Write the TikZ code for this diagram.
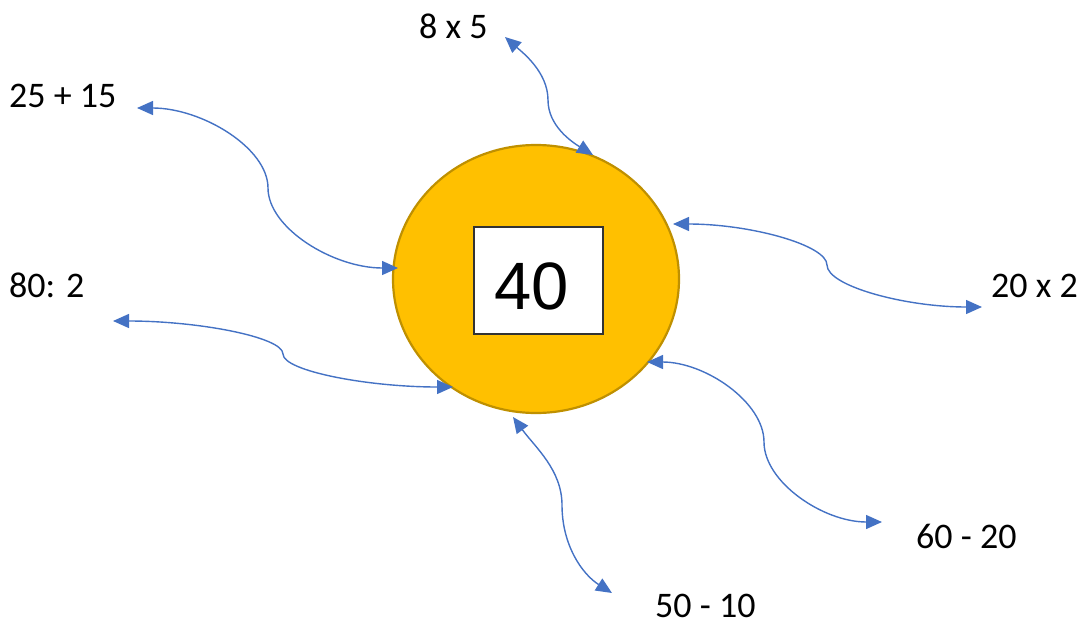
\documentclass[tikz,border=0pt]{standalone}
\usepackage{fontspec}
\setmainfont{Carlito}
\newfontfamily\numfont{Liberation Sans}
\usetikzlibrary{arrows.meta,shapes.geometric}
\definecolor{sunfill}{HTML}{FFC000}
\definecolor{sunedge}{HTML}{BF9000}
\definecolor{conblue}{HTML}{4472C4}
\tikzset{
  lbl/.style={anchor=base west,inner sep=0pt,font=\fontsize{36}{40}\selectfont},
  conn/.style={draw=conblue,line width=1.4pt,{Triangle[length=16pt,width=14pt]}-{Triangle[length=16pt,width=14pt]}},
}
\begin{document}
\begin{tikzpicture}[x=1pt,y=-1pt]
\useasboundingbox (0,0) rectangle (1081,624);
% central ellipse and box
\node[ellipse,draw=sunedge,fill=sunfill,line width=2.2pt,minimum width=286pt,minimum height=268pt,inner sep=0pt] (sun) at (536,279) {};
\node[draw=black!80,fill=white,line width=1.2pt,minimum width=129pt,minimum height=107pt,inner sep=0pt,font=\numfont\fontsize{67}{70}\selectfont] (val) at (538.5,280.5) {\hspace*{-14pt}\raisebox{-4.5pt}[48pt][0pt]{40}};
% labels
\node[lbl] (l1) at (9,107) {25 + 15};
\node[lbl] (l2) at (419,38) {8 x 5};
\node[lbl] (l3) at (9,297) {80: 2};
\node[lbl] (l4) at (991,297) {20 x 2};
\node[lbl] (l5) at (916,548) {60 - 20};
\node[lbl] (l6) at (655,617) {50 - 10};
% connector ends
\coordinate (a1) at (137,108); \coordinate (b1) at (398,268);
\coordinate (a2) at (505,37);  \coordinate (b2) at (593,155);
\coordinate (a3) at (113,321); \coordinate (b3) at (453,387);
\coordinate (a4) at (673,224); \coordinate (b4) at (982,307);
\coordinate (a5) at (647,362); \coordinate (b5) at (882,522);
\coordinate (a6) at (513,417); \coordinate (b6) at (612,593);
% connectors
\draw[conn] (a1) .. controls (202,108) and (268,148) .. (268,188) .. controls (268,228) and (333,268) .. (b1);
\draw[conn] (a2) .. controls (522,52) and (548,72) .. (548,100) .. controls (548,126) and (572,142) .. (b2);
\draw[conn] (a3) .. controls (198,321) and (283,337) .. (283,354) .. controls (283,371) and (368,387) .. (b3);
\draw[conn] (a4) .. controls (750,224) and (827,245) .. (827,265) .. controls (827,286) and (905,307) .. (b4);
\draw[conn] (a5) .. controls (705,362) and (764,402) .. (764,442) .. controls (764,482) and (823,522) .. (b5);
\draw[conn] (a6) .. controls (535,447) and (562,470) .. (562,505) .. controls (562,545) and (582,574) .. (b6);
\end{tikzpicture}
\end{document}
